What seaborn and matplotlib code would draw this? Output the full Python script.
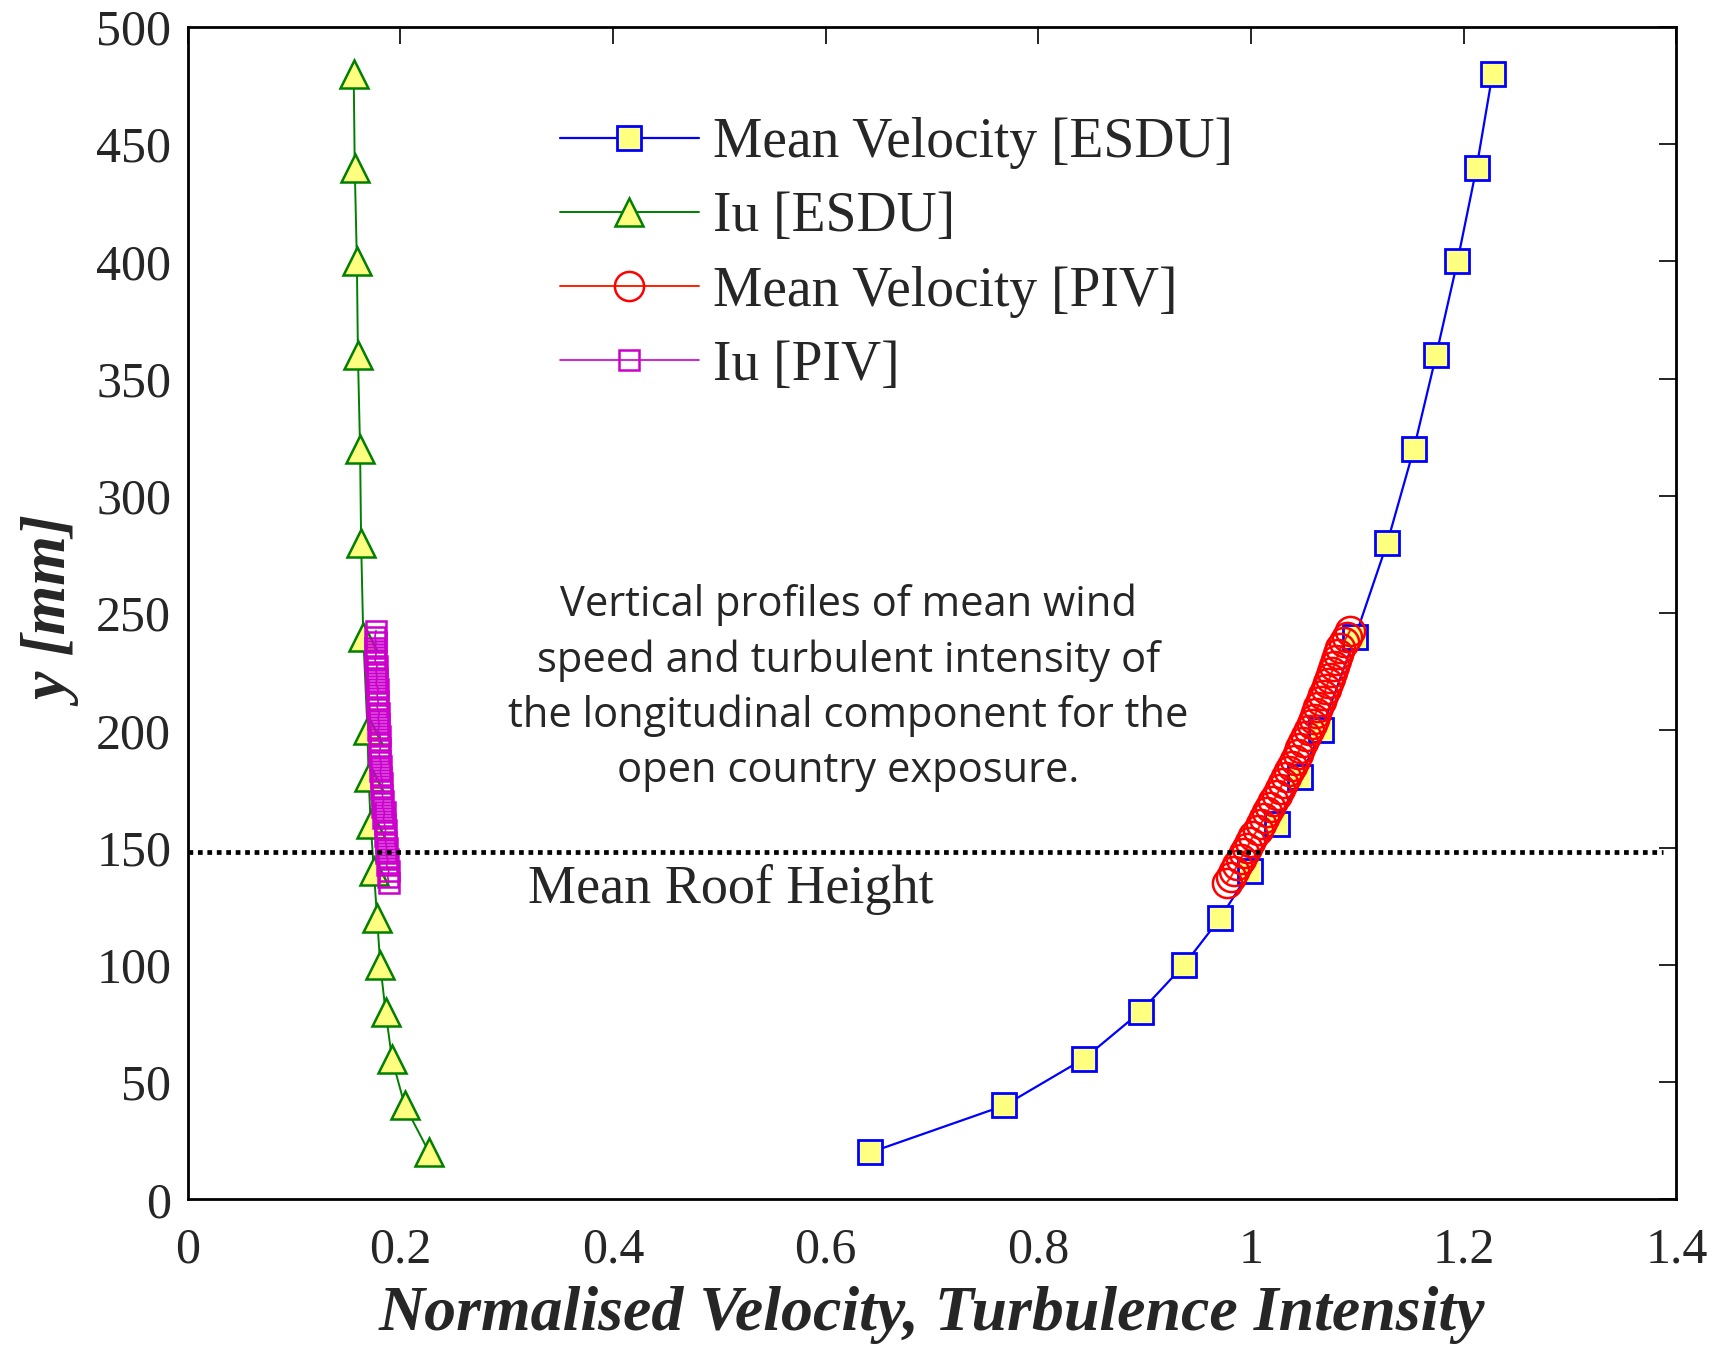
import matplotlib
matplotlib.use("Agg")
import matplotlib.pyplot as plt
import seaborn as sns
import pandas as pd

# ---- data ----
esdu_y = [20, 40, 60, 80, 100, 120, 140, 160, 180, 200, 240, 280, 320, 360, 400, 440, 480]
esdu_vel = [0.642, 0.768, 0.843, 0.896, 0.937, 0.971, 0.999, 1.024, 1.046, 1.066,
            1.098, 1.128, 1.153, 1.174, 1.194, 1.212, 1.227]
esdu_iu = [0.227, 0.204, 0.192, 0.186, 0.181, 0.178, 0.175, 0.172, 0.170, 0.169,
           0.165, 0.163, 0.162, 0.160, 0.159, 0.157, 0.156]

piv_y = [135, 137.5, 140, 142.5, 145, 147.5, 150, 152.5, 155, 157.5, 160, 162.5, 165,
         167.5, 170, 172.5, 175, 177.5, 180, 182.5, 185, 187.5, 190, 192.5, 195, 197.5,
         200, 202.5, 205, 207.5, 210, 212.5, 215, 217.5, 220, 222.5, 225, 227.5, 230,
         232.5, 235, 237.5, 240, 242.5]
piv_vel = [0.977, 0.981, 0.984, 0.987, 0.990, 0.993, 0.996, 0.999, 1.002, 1.006, 1.009,
           1.012, 1.015, 1.018, 1.021, 1.024, 1.027, 1.030, 1.033, 1.036, 1.038, 1.041,
           1.044, 1.046, 1.049, 1.052, 1.054, 1.057, 1.059, 1.061, 1.063, 1.066, 1.068,
           1.070, 1.072, 1.074, 1.076, 1.078, 1.080, 1.082, 1.084, 1.087, 1.090, 1.093]
piv_iu = [0.189, 0.188, 0.189, 0.187, 0.188, 0.186, 0.187, 0.186, 0.185, 0.186, 0.185,
          0.184, 0.185, 0.183, 0.184, 0.183, 0.182, 0.183, 0.182, 0.181, 0.182, 0.181,
          0.180, 0.181, 0.180, 0.181, 0.179, 0.180, 0.179, 0.180, 0.178, 0.179, 0.178,
          0.179, 0.177, 0.178, 0.177, 0.178, 0.176, 0.177, 0.176, 0.177, 0.176, 0.177]

roof_height = 148
xticks = [0, 0.2, 0.4, 0.6, 0.8, 1, 1.2, 1.4]
xticklabels = ["0", "0.2", "0.4", "0.6", "0.8", "1", "1.2", "1.4"]
yticks = [0, 50, 100, 150, 200, 250, 300, 350, 400, 450, 500]

labels = ["Mean Velocity [ESDU]", "Iu [ESDU]", "Mean Velocity [PIV]", "Iu [PIV]"]
annotation = ("Vertical profiles of mean wind\nspeed and turbulent intensity of\n"
              "the longitudinal component for the\nopen country exposure.")

# ---- style ----
sns.set_style("white")
plt.rcParams["font.family"] = ["Liberation Serif", "DejaVu Serif"]

fig = plt.figure(figsize=(17.23, 13.46), dpi=100)
ax = fig.add_axes([0.109, 0.109, 0.864, 0.871])

df_esdu = pd.DataFrame({"y": esdu_y, "vel": esdu_vel, "iu": esdu_iu})
df_piv = pd.DataFrame({"y": piv_y, "vel": piv_vel, "iu": piv_iu})

sns.lineplot(data=df_esdu, x="vel", y="y", orient="y", sort=False, estimator=None,
             ax=ax, color="#0000ff", linewidth=1.6, marker="s", markersize=17,
             markerfacecolor="#ffff80", markeredgecolor="#0000ff", markeredgewidth=2,
             label=labels[0], zorder=3)
sns.lineplot(data=df_esdu, x="iu", y="y", orient="y", sort=False, estimator=None,
             ax=ax, color="#008000", linewidth=1.4, marker="^", markersize=20,
             markerfacecolor="#ffff80", markeredgecolor="#008000", markeredgewidth=1.8,
             label=labels[1], zorder=3)
sns.lineplot(data=df_piv, x="vel", y="y", orient="y", sort=False, estimator=None,
             ax=ax, color="#ff2000", linewidth=1.4, marker="o", markersize=21,
             markerfacecolor="none", markeredgecolor="#ff0000", markeredgewidth=1.8,
             label=labels[2], zorder=4)
sns.lineplot(data=df_piv, x="iu", y="y", orient="y", sort=False, estimator=None,
             ax=ax, color="#cc00cc", linewidth=1.2, marker="s", markersize=15,
             markerfacecolor="none", markeredgecolor="#cc00cc", markeredgewidth=1.8,
             label=labels[3], zorder=4)

ax.plot([0, 1.387], [roof_height, roof_height], color="black", linestyle=(0, (1, 1)),
        linewidth=3.4, zorder=5)

ax.text(0.32, 132, "Mean Roof Height", fontsize=39, ha="left", va="center")
ax.text(0.621, 218, annotation, fontsize=30, ha="center", va="center",
        family=["Open Sans", "DejaVu Sans"], linespacing=1.4)

ax.set_xlim(0, 1.4)
ax.set_ylim(0, 500)
ax.set_xticks(xticks)
ax.set_xticklabels(xticklabels)
ax.set_yticks(yticks)
ax.tick_params(axis="both", direction="in", length=12, width=1.2, labelsize=36,
               top=True, right=True, pad=12, color="black")
ax.tick_params(axis="x", pad=20)
for s in ax.spines.values():
    s.set_color("black")
    s.set_linewidth(2)

ax.set_xlabel("Normalised Velocity, Turbulence Intensity", fontsize=46,
              fontweight="bold", style="italic", labelpad=9)
ax.set_ylabel("y [mm]", fontsize=46, fontweight="bold", style="italic", labelpad=8)

leg = ax.legend(loc="upper left", bbox_to_anchor=(0.235, 0.942), frameon=False,
                fontsize=40, handlelength=2.5, handletextpad=0.25, labelspacing=0.4,
                borderaxespad=0)

fig.savefig("out.png", dpi=100)
